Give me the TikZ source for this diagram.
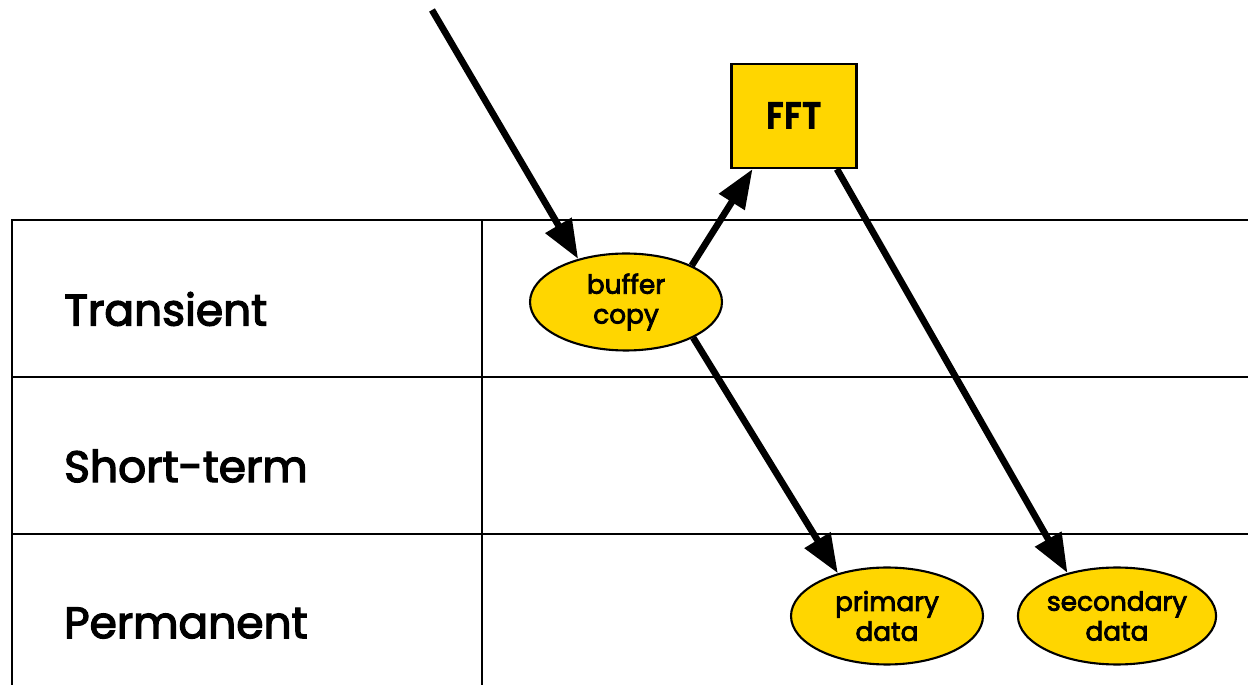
\documentclass[tikz,border=0pt]{standalone}
\usepackage{fontspec}
\setmainfont[FakeBold=3]{Poppins}
\newfontfamily\fftfont[FakeStretch=0.85]{Poppins}
\usetikzlibrary{shapes.geometric,arrows.meta}
\definecolor{boxyellow}{RGB}{255,214,0}

\tikzset{%
  % Specifications for style of nodes:
         store/.style = {ellipse, draw = black, line width=1.2pt, fill=boxyellow, minimum width=3.84cm, minimum height=1.94cm, inner sep=0pt, align=center, font=\fontsize{15}{17}\selectfont},
         proc/.style  = {rectangle, draw = black, line width=1.2pt, fill=boxyellow, minimum width=2.5cm, minimum height=2.08cm, font=\fontsize{22}{24}\fftfont\bfseries},
         level/.style = {anchor=west, font=\fontsize{25}{29}\selectfont},
         flow/.style  = {line width=3.8pt, -{Triangle[length=0.78cm, width=0.58cm]}},
}

\begin{document}
\begin{tikzpicture}[x=0.02cm, y=-0.02cm]
    \clip (0,0) rectangle (1248,685);

    % Draw table
    \draw[line width=1.1pt] (12,700) -- (12,220) -- (1260,220);
    \draw[line width=1.1pt] (12,377) -- (1260,377);
    \draw[line width=1.1pt] (12,534) -- (1260,534);
    \draw[line width=1.1pt] (482,220) -- (482,700);

    % Draw nodes
    \node (trans)  [level] at (58,309)   {Transient};
    \node (short)  [level] at (58,466)   {Short-term};
    \node (perm)   [level] at (58,623)   {Permanent};

    \node (fft)    [proc]  at (794,116)  {FFT};
    \node (buf)    [store] at (626,302)  {buffer\\copy};
    \node (prim)   [store] at (887,616)  {primary\\data};
    \node (sec)    [store] at (1117,616) {secondary\\data};
    \coordinate (in) at (432,10);

    % Draw arrows
    \draw[flow] (in) -- (buf.138);
    \draw[flow] (buf.29) -- (fft.232);
    \draw[flow] (buf.-28) -- (prim.139);
    \draw[flow] (fft.-51) -- (sec.139);
\end{tikzpicture}
\end{document}
